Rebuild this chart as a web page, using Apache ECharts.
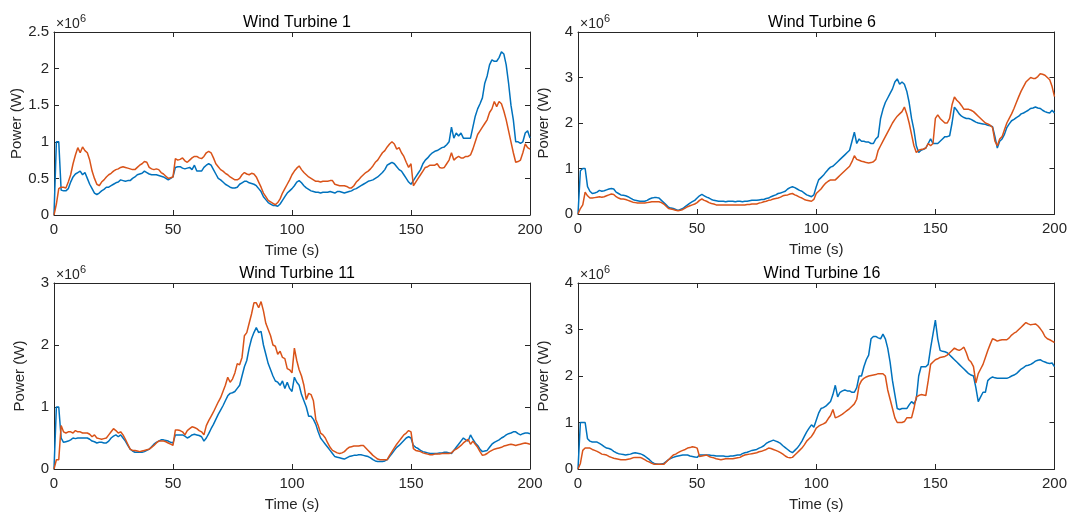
<!DOCTYPE html>
<html>
<head>
<meta charset="utf-8">
<title>Wind Turbine Power</title>
<script src="https://cdn.jsdelivr.net/npm/echarts@6/dist/echarts.min.js"></script>
<style>
  html, body { margin: 0; padding: 0; background: #ffffff; }
  #chart { width: 1070px; height: 513px; }
</style>
</head>
<body>
<div id="chart"></div>
<script>
// Power output of four turbines, sampled once a second (values in units of 10^6 W)
const timeSec = Array.from({ length: 201 }, (_, i) => i);

const xTicks = [0, 50, 100, 150, 200];
const titles = ['Wind Turbine 1', 'Wind Turbine 6', 'Wind Turbine 11', 'Wind Turbine 16'];
const yMax = [2.5, 4, 3, 4];
const yStep = [0.5, 1, 1, 1];

const wt1Blue = [
  0, 1.0, 1.0, 0.34, 0.33, 0.33, 0.36, 0.45, 0.52, 0.56,
  0.58, 0.60, 0.55, 0.58, 0.50, 0.42, 0.36, 0.30, 0.28, 0.30,
  0.33, 0.35, 0.38, 0.38, 0.40, 0.42, 0.44, 0.45, 0.48, 0.47,
  0.46, 0.47, 0.47, 0.50, 0.52, 0.55, 0.56, 0.57, 0.60, 0.58,
  0.56, 0.55, 0.55, 0.55, 0.54, 0.53, 0.52, 0.50, 0.48, 0.50,
  0.52, 0.65, 0.66, 0.66, 0.64, 0.63, 0.64, 0.65, 0.62, 0.68,
  0.60, 0.60, 0.60, 0.65, 0.68, 0.70, 0.68, 0.62, 0.56, 0.50,
  0.48, 0.45, 0.42, 0.40, 0.38, 0.37, 0.37, 0.38, 0.42, 0.44,
  0.46, 0.46, 0.44, 0.43, 0.42, 0.40, 0.36, 0.32, 0.25, 0.21,
  0.17, 0.15, 0.13, 0.13, 0.12, 0.15, 0.20, 0.25, 0.30, 0.33,
  0.36, 0.40, 0.45, 0.47, 0.44, 0.40, 0.37, 0.35, 0.33, 0.32,
  0.31, 0.31, 0.30, 0.31, 0.31, 0.31, 0.32, 0.31, 0.30, 0.32,
  0.32, 0.31, 0.30, 0.31, 0.32, 0.33, 0.35, 0.36, 0.38, 0.40,
  0.42, 0.44, 0.46, 0.47, 0.48, 0.50, 0.52, 0.55, 0.58, 0.62,
  0.68, 0.70, 0.72, 0.70, 0.66, 0.62, 0.60, 0.55, 0.50, 0.45,
  0.42, 0.47, 0.52, 0.57, 0.62, 0.70, 0.75, 0.78, 0.82, 0.85,
  0.87, 0.88, 0.90, 0.92, 0.93, 0.96, 1.00, 1.20, 1.05, 1.12,
  1.08, 1.12, 1.05, 1.05, 1.05, 1.05, 1.20, 1.35, 1.45, 1.52,
  1.60, 1.80, 1.90, 2.05, 2.12, 2.10, 2.10, 2.15, 2.23, 2.20,
  2.05, 1.80, 1.50, 1.30, 1.00, 1.00, 0.98, 1.00, 1.12, 1.15,
  1.05
];
const wt1Orange = [
  0, 0.15, 0.36, 0.38, 0.38, 0.37, 0.45, 0.55, 0.70, 0.82,
  0.92, 0.85, 0.93, 0.88, 0.85, 0.75, 0.60, 0.50, 0.42, 0.40,
  0.45, 0.48, 0.52, 0.55, 0.57, 0.60, 0.62, 0.63, 0.65, 0.66,
  0.65, 0.64, 0.63, 0.62, 0.62, 0.65, 0.68, 0.70, 0.73, 0.72,
  0.65, 0.63, 0.62, 0.63, 0.62, 0.58, 0.56, 0.53, 0.50, 0.51,
  0.52, 0.77, 0.75, 0.76, 0.78, 0.74, 0.72, 0.75, 0.78, 0.80,
  0.80, 0.78, 0.77, 0.80, 0.85, 0.87, 0.85, 0.78, 0.70, 0.66,
  0.62, 0.60, 0.57, 0.55, 0.52, 0.50, 0.48, 0.48, 0.50, 0.55,
  0.58, 0.56, 0.55, 0.57, 0.56, 0.52, 0.45, 0.38, 0.30, 0.25,
  0.20, 0.18, 0.16, 0.14, 0.17, 0.22, 0.30, 0.36, 0.42, 0.48,
  0.55, 0.60, 0.64, 0.67, 0.62, 0.58, 0.55, 0.52, 0.50, 0.48,
  0.46, 0.46, 0.45, 0.46, 0.46, 0.46, 0.47, 0.47, 0.42, 0.41,
  0.40, 0.40, 0.40, 0.39, 0.37, 0.37, 0.40, 0.45, 0.48, 0.52,
  0.55, 0.58, 0.60, 0.63, 0.67, 0.72, 0.75, 0.80, 0.85, 0.88,
  0.93, 0.97, 1.00, 0.97, 0.90, 0.92, 0.85, 0.80, 0.72, 0.65,
  0.70, 0.40, 0.45, 0.50, 0.55, 0.60, 0.65, 0.66, 0.68, 0.68,
  0.68, 0.70, 0.65, 0.64, 0.65, 0.70, 0.75, 0.85, 0.75, 0.78,
  0.80, 0.78, 0.78, 0.80, 0.80, 0.82, 0.90, 1.00, 1.10, 1.15,
  1.20, 1.25, 1.30, 1.40, 1.45, 1.55, 1.48, 1.55, 1.52, 1.42,
  1.30, 1.15, 1.00, 0.85, 0.72, 0.73, 0.75, 0.85, 0.97, 0.92,
  0.90
];

const wt6Blue = [
  0, 0.95, 1.0, 1.0, 0.60, 0.50, 0.45, 0.46, 0.48, 0.52,
  0.50, 0.51, 0.53, 0.55, 0.56, 0.55, 0.48, 0.45, 0.42, 0.41,
  0.40, 0.38, 0.35, 0.32, 0.30, 0.29, 0.28, 0.28, 0.28, 0.30,
  0.33, 0.35, 0.36, 0.36, 0.35, 0.30, 0.25, 0.20, 0.15, 0.13,
  0.12, 0.10, 0.08, 0.10, 0.12, 0.16, 0.20, 0.24, 0.27, 0.30,
  0.35, 0.40, 0.43, 0.40, 0.37, 0.35, 0.32, 0.30, 0.29, 0.28,
  0.28, 0.28, 0.27, 0.28, 0.28, 0.28, 0.27, 0.28, 0.28, 0.27,
  0.28, 0.28, 0.29, 0.30, 0.30, 0.30, 0.31, 0.32, 0.32, 0.34,
  0.35, 0.38, 0.40, 0.42, 0.45, 0.46, 0.48, 0.50, 0.55, 0.58,
  0.60, 0.58, 0.55, 0.52, 0.50, 0.46, 0.42, 0.40, 0.38, 0.42,
  0.60, 0.75, 0.80, 0.85, 0.92, 0.98, 1.03, 1.05, 1.10, 1.15,
  1.20, 1.25, 1.30, 1.35, 1.40, 1.60, 1.80, 1.55, 1.65, 1.60,
  1.60, 1.58, 1.58, 1.55, 1.55, 1.65, 1.70, 2.10, 2.30, 2.45,
  2.55, 2.65, 2.75, 2.90, 2.97, 2.85, 2.90, 2.85, 2.70, 2.45,
  2.10, 1.85, 1.50, 1.35, 1.40, 1.42, 1.45, 1.55, 1.65, 1.55,
  1.55, 1.55, 1.60, 1.65, 1.70, 1.70, 1.72, 2.00, 2.35, 2.28,
  2.20, 2.15, 2.12, 2.10, 2.10, 2.08, 2.05, 2.02, 2.00, 1.99,
  1.98, 1.97, 1.95, 1.94, 1.92, 1.70, 1.45, 1.60, 1.65, 1.75,
  1.90, 1.98, 2.05, 2.08, 2.12, 2.15, 2.20, 2.22, 2.25, 2.28,
  2.32, 2.33, 2.35, 2.33, 2.32, 2.28, 2.25, 2.23, 2.22, 2.28,
  2.22
];
const wt6Orange = [
  0, 0.12, 0.20, 0.48, 0.40, 0.35, 0.35, 0.36, 0.37, 0.38,
  0.37, 0.38, 0.40, 0.42, 0.44, 0.43, 0.38, 0.35, 0.33, 0.33,
  0.32, 0.30, 0.28, 0.26, 0.25, 0.24, 0.24, 0.24, 0.24, 0.25,
  0.26, 0.27, 0.27, 0.27, 0.27, 0.25, 0.22, 0.17, 0.12, 0.11,
  0.10, 0.08, 0.07, 0.08, 0.10, 0.13, 0.16, 0.18, 0.20, 0.22,
  0.25, 0.30, 0.33, 0.30, 0.28, 0.25, 0.23, 0.22, 0.20, 0.20,
  0.20, 0.20, 0.20, 0.20, 0.20, 0.20, 0.20, 0.20, 0.20, 0.20,
  0.20, 0.21, 0.21, 0.22, 0.22, 0.22, 0.24, 0.25, 0.27, 0.28,
  0.30, 0.31, 0.33, 0.34, 0.35, 0.37, 0.40, 0.41, 0.42, 0.44,
  0.45, 0.42, 0.40, 0.37, 0.35, 0.32, 0.30, 0.29, 0.28, 0.32,
  0.45, 0.50, 0.55, 0.62, 0.68, 0.72, 0.75, 0.75, 0.75, 0.80,
  0.85, 0.90, 0.95, 1.00, 1.05, 1.15, 1.28, 1.20, 1.18, 1.16,
  1.15, 1.13, 1.12, 1.13, 1.15, 1.20, 1.40, 1.50, 1.60, 1.70,
  1.80, 1.90, 2.00, 2.08, 2.15, 2.20, 2.25, 2.35, 2.20, 2.00,
  1.75, 1.50, 1.35, 1.40, 1.42, 1.43, 1.45, 1.55, 1.50, 1.55,
  2.10, 2.18, 2.10, 2.05, 2.00, 2.00, 2.10, 2.40, 2.57, 2.50,
  2.45, 2.38, 2.30, 2.30, 2.30, 2.28, 2.25, 2.20, 2.15, 2.10,
  2.05, 2.00, 1.98, 1.95, 1.90, 1.60, 1.50, 1.65, 1.70, 1.85,
  2.00, 2.10, 2.20, 2.32, 2.45, 2.58, 2.70, 2.80, 2.90, 2.95,
  3.00, 2.98, 2.98, 3.02, 3.08, 3.07, 3.05, 3.00, 2.95, 2.80,
  2.58
];

const wt11Blue = [
  0, 1.0, 1.0, 0.50, 0.43, 0.44, 0.45, 0.47, 0.50, 0.49,
  0.50, 0.50, 0.50, 0.50, 0.50, 0.48, 0.45, 0.44, 0.42, 0.43,
  0.43, 0.42, 0.42, 0.45, 0.50, 0.53, 0.55, 0.52, 0.55, 0.50,
  0.45, 0.38, 0.32, 0.29, 0.27, 0.27, 0.27, 0.27, 0.28, 0.30,
  0.32, 0.36, 0.40, 0.43, 0.45, 0.47, 0.47, 0.46, 0.45, 0.43,
  0.42, 0.55, 0.55, 0.55, 0.55, 0.53, 0.50, 0.52, 0.55, 0.56,
  0.55, 0.54, 0.52, 0.45, 0.50, 0.57, 0.65, 0.72, 0.80, 0.88,
  0.95, 1.02, 1.10, 1.18, 1.22, 1.23, 1.25, 1.30, 1.35, 1.50,
  1.65, 1.75, 1.95, 2.10, 2.20, 2.28, 2.20, 2.22, 2.00, 1.85,
  1.70, 1.60, 1.50, 1.42, 1.40, 1.35, 1.42, 1.30, 1.40, 1.30,
  1.25, 1.48, 1.40, 1.35, 1.20, 1.10, 1.00, 0.85, 0.85, 0.80,
  0.72, 0.60, 0.50, 0.45, 0.40, 0.35, 0.30, 0.25, 0.20, 0.19,
  0.18, 0.17, 0.16, 0.18, 0.20, 0.21, 0.22, 0.22, 0.23, 0.23,
  0.22, 0.21, 0.20, 0.18, 0.15, 0.13, 0.12, 0.12, 0.12, 0.13,
  0.15, 0.20, 0.25, 0.30, 0.35, 0.38, 0.42, 0.46, 0.50, 0.52,
  0.50, 0.38, 0.35, 0.33, 0.30, 0.28, 0.27, 0.26, 0.25, 0.25,
  0.25, 0.25, 0.26, 0.26, 0.27, 0.27, 0.26, 0.25, 0.30, 0.35,
  0.40, 0.45, 0.50, 0.47, 0.45, 0.55, 0.48, 0.42, 0.38, 0.32,
  0.28, 0.29, 0.30, 0.35, 0.40, 0.43, 0.45, 0.47, 0.50, 0.52,
  0.55, 0.57, 0.58, 0.60, 0.60, 0.57, 0.55, 0.57, 0.58, 0.58,
  0.57
];
const wt11Orange = [
  0, 0.15, 0.15, 0.70, 0.60, 0.58, 0.60, 0.60, 0.58, 0.62,
  0.60, 0.60, 0.58, 0.58, 0.58, 0.56, 0.52, 0.55, 0.50, 0.49,
  0.48, 0.49, 0.50, 0.55, 0.60, 0.65, 0.62, 0.58, 0.60, 0.55,
  0.48, 0.40, 0.32, 0.30, 0.30, 0.29, 0.28, 0.29, 0.30, 0.31,
  0.32, 0.35, 0.38, 0.42, 0.45, 0.45, 0.45, 0.44, 0.42, 0.40,
  0.38, 0.63, 0.63, 0.62, 0.60, 0.55, 0.62, 0.65, 0.68, 0.67,
  0.65, 0.62, 0.60, 0.55, 0.70, 0.78, 0.85, 0.92, 1.00, 1.08,
  1.15, 1.25, 1.35, 1.48, 1.40, 1.45, 1.55, 1.70, 1.68, 1.80,
  2.15, 2.20, 2.35, 2.50, 2.68, 2.68, 2.60, 2.70, 2.55, 2.35,
  2.25, 2.15, 2.00, 1.98, 1.85, 1.90, 1.80, 1.78, 1.62, 1.60,
  1.55, 1.95, 1.75, 1.60, 1.50, 1.35, 1.12, 1.22, 1.20, 1.10,
  0.80, 0.70, 0.58, 0.55, 0.50, 0.42, 0.35, 0.30, 0.28, 0.26,
  0.25, 0.26, 0.28, 0.32, 0.35, 0.36, 0.37, 0.37, 0.37, 0.38,
  0.38, 0.34, 0.30, 0.26, 0.22, 0.19, 0.16, 0.15, 0.15, 0.15,
  0.15, 0.22, 0.28, 0.34, 0.40, 0.45, 0.50, 0.55, 0.58, 0.62,
  0.60, 0.33, 0.30, 0.29, 0.28, 0.26, 0.25, 0.24, 0.23, 0.23,
  0.24, 0.24, 0.24, 0.25, 0.25, 0.25, 0.25, 0.26, 0.30, 0.32,
  0.35, 0.38, 0.42, 0.45, 0.48, 0.40, 0.45, 0.40, 0.35, 0.28,
  0.22, 0.23, 0.25, 0.28, 0.30, 0.32, 0.33, 0.34, 0.35, 0.37,
  0.38, 0.39, 0.40, 0.39, 0.38, 0.39, 0.40, 0.41, 0.42, 0.41,
  0.40
];

const wt16Blue = [
  0, 1.0, 1.0, 1.0, 0.65, 0.60, 0.58, 0.58, 0.58, 0.55,
  0.52, 0.48, 0.45, 0.44, 0.42, 0.38, 0.35, 0.33, 0.32, 0.31,
  0.30, 0.31, 0.32, 0.34, 0.35, 0.34, 0.33, 0.31, 0.28, 0.24,
  0.20, 0.15, 0.12, 0.11, 0.10, 0.11, 0.12, 0.16, 0.20, 0.23,
  0.25, 0.27, 0.28, 0.29, 0.30, 0.30, 0.30, 0.28, 0.27, 0.26,
  0.25, 0.30, 0.30, 0.30, 0.30, 0.30, 0.29, 0.29, 0.28, 0.28,
  0.28, 0.28, 0.27, 0.27, 0.28, 0.28, 0.29, 0.30, 0.30, 0.33,
  0.35, 0.36, 0.38, 0.40, 0.41, 0.42, 0.45, 0.47, 0.50, 0.55,
  0.58, 0.60, 0.62, 0.60, 0.58, 0.55, 0.50, 0.46, 0.42, 0.38,
  0.35, 0.40, 0.45, 0.52, 0.60, 0.70, 0.80, 0.88, 0.95, 0.90,
  1.05, 1.20, 1.30, 1.32, 1.35, 1.40, 1.45, 1.60, 1.80, 1.55,
  1.65, 1.68, 1.70, 1.68, 1.68, 1.65, 1.65, 1.75, 2.00, 2.00,
  2.20, 2.35, 2.45, 2.80, 2.85, 2.85, 2.82, 2.80, 2.90, 2.80,
  2.60, 2.30, 1.90, 1.60, 1.30, 1.28, 1.30, 1.30, 1.30, 1.38,
  1.45, 1.40, 1.50, 2.00, 2.20, 2.20, 2.20, 2.25, 2.60, 2.90,
  3.20, 2.80, 2.55, 2.53, 2.52, 2.50, 2.45, 2.40, 2.35, 2.30,
  2.25, 2.20, 2.15, 2.10, 2.05, 2.02, 2.00, 1.75, 1.45, 1.55,
  1.65, 1.65, 1.90, 1.95, 1.98, 1.96, 1.95, 1.95, 1.95, 1.95,
  1.95, 1.97, 2.00, 2.02, 2.05, 2.10, 2.15, 2.18, 2.22, 2.23,
  2.25, 2.28, 2.32, 2.34, 2.35, 2.32, 2.30, 2.28, 2.27, 2.28,
  2.20
];
const wt16Orange = [
  0, 0.12, 0.40, 0.45, 0.45, 0.45, 0.42, 0.40, 0.38, 0.35,
  0.32, 0.31, 0.30, 0.27, 0.25, 0.23, 0.22, 0.21, 0.20, 0.20,
  0.20, 0.21, 0.22, 0.24, 0.25, 0.25, 0.25, 0.23, 0.20, 0.17,
  0.15, 0.12, 0.10, 0.10, 0.10, 0.10, 0.10, 0.15, 0.20, 0.25,
  0.30, 0.32, 0.35, 0.38, 0.40, 0.42, 0.45, 0.46, 0.48, 0.47,
  0.45, 0.27, 0.28, 0.29, 0.30, 0.27, 0.25, 0.24, 0.22, 0.21,
  0.20, 0.21, 0.22, 0.22, 0.22, 0.22, 0.23, 0.24, 0.25, 0.28,
  0.30, 0.31, 0.32, 0.33, 0.34, 0.35, 0.37, 0.38, 0.40, 0.42,
  0.45, 0.44, 0.42, 0.40, 0.38, 0.35, 0.32, 0.28, 0.25, 0.24,
  0.25, 0.30, 0.35, 0.40, 0.45, 0.52, 0.60, 0.65, 0.70, 0.78,
  0.88, 0.92, 0.95, 0.97, 1.00, 1.08, 1.15, 1.28, 1.10, 1.12,
  1.15, 1.18, 1.22, 1.26, 1.30, 1.35, 1.40, 1.50, 1.80, 1.90,
  1.95, 1.98, 2.00, 2.01, 2.02, 2.03, 2.05, 2.05, 2.05, 2.00,
  1.70, 1.50, 1.30, 1.10, 1.00, 1.00, 1.00, 1.02, 1.10, 1.10,
  1.10, 1.30, 1.55, 1.58, 1.60, 1.59, 1.58, 1.90, 2.25, 2.30,
  2.35, 2.37, 2.40, 2.41, 2.42, 2.45, 2.50, 2.55, 2.60, 2.57,
  2.55, 2.58, 2.62, 2.50, 2.35, 2.30, 2.20, 1.85, 2.05, 2.15,
  2.25, 2.40, 2.55, 2.68, 2.80, 2.78, 2.75, 2.77, 2.78, 2.78,
  2.78, 2.82, 2.88, 2.92, 2.95, 3.00, 3.05, 3.10, 3.15, 3.12,
  3.10, 3.11, 3.12, 3.08, 3.02, 2.95, 2.85, 2.80, 2.78, 2.75,
  2.72
];

const blueSeries = [wt1Blue, wt6Blue, wt11Blue, wt16Blue];
const orangeSeries = [wt1Orange, wt6Orange, wt11Orange, wt16Orange];

// Panel frames in pixels
const panels = [
  { left: 54, top: 32, width: 476, height: 183 },
  { left: 578, top: 32, width: 478, height: 182 },
  { left: 54, top: 283, width: 476, height: 186 },
  { left: 578, top: 283, width: 478, height: 186 }
];

const FONT = '"Liberation Sans", Arial, Helvetica, sans-serif';
const AXIS_COLOR = '#262626';
const BLUE = '#0072BD';
const ORANGE = '#D95319';

const grid = [], xAxis = [], yAxis = [], series = [], title = [], graphic = [];

panels.forEach((p, i) => {
  grid.push({ left: p.left, top: p.top, width: p.width, height: p.height, containLabel: false });

  const tickStyle = { show: true, inside: true, length: 5, lineStyle: { color: AXIS_COLOR, width: 1 } };
  const lineStyle = { show: true, onZero: false, lineStyle: { color: AXIS_COLOR, width: 1 } };

  // bottom axis with labels, top axis for the box and mirrored ticks
  xAxis.push({
    gridIndex: i, type: 'value', position: 'bottom',
    min: xTicks[0], max: xTicks[xTicks.length - 1], interval: xTicks[1] - xTicks[0],
    axisLine: lineStyle, axisTick: tickStyle, splitLine: { show: false },
    axisLabel: { show: true, color: AXIS_COLOR, fontSize: 15, fontFamily: FONT, margin: 7 },
    name: 'Time (s)', nameLocation: 'middle', nameGap: 28,
    nameTextStyle: { color: AXIS_COLOR, fontSize: 15, fontFamily: FONT }
  });
  xAxis.push({
    gridIndex: i, type: 'value', position: 'top',
    min: xTicks[0], max: xTicks[xTicks.length - 1], interval: xTicks[1] - xTicks[0],
    axisLine: lineStyle, axisTick: tickStyle, splitLine: { show: false },
    axisLabel: { show: false }
  });
  yAxis.push({
    gridIndex: i, type: 'value', position: 'left',
    min: 0, max: yMax[i], interval: yStep[i],
    axisLine: lineStyle, axisTick: tickStyle, splitLine: { show: false },
    axisLabel: { show: true, color: AXIS_COLOR, fontSize: 15, fontFamily: FONT, margin: 5 },
    name: 'Power (W)', nameLocation: 'middle', nameGap: 27,
    nameTextStyle: { color: AXIS_COLOR, fontSize: 15, fontFamily: FONT }
  });
  yAxis.push({
    gridIndex: i, type: 'value', position: 'right',
    min: 0, max: yMax[i], interval: yStep[i],
    axisLine: lineStyle, axisTick: tickStyle, splitLine: { show: false },
    axisLabel: { show: false }
  });

  const toPairs = arr => timeSec.map((t, k) => [t, arr[k]]);
  series.push({
    type: 'line', xAxisIndex: 2 * i, yAxisIndex: 2 * i,
    data: toPairs(blueSeries[i]), showSymbol: false, symbol: 'none',
    lineStyle: { color: BLUE, width: 1.5 }, itemStyle: { color: BLUE }, z: 2
  });
  series.push({
    type: 'line', xAxisIndex: 2 * i, yAxisIndex: 2 * i,
    data: toPairs(orangeSeries[i]), showSymbol: false, symbol: 'none',
    lineStyle: { color: ORANGE, width: 1.5 }, itemStyle: { color: ORANGE }, z: 3
  });

  title.push({
    text: titles[i], left: p.left + p.width / 2, top: p.top - 22, textAlign: 'center',
    textStyle: { color: '#000000', fontSize: 16, fontWeight: 'normal', fontFamily: FONT }
  });

  // exponent marker above the y axis
  graphic.push({
    type: 'text', x: p.left + 2, y: p.top - 1,
    style: { text: '\u00d710', font: '14px ' + FONT, fill: AXIS_COLOR,
             textAlign: 'left', textVerticalAlign: 'bottom', align: 'left', verticalAlign: 'bottom' }
  });
  graphic.push({
    type: 'text', x: p.left + 26, y: p.top - 8,
    style: { text: '6', font: '11px ' + FONT, fill: AXIS_COLOR,
             textAlign: 'left', textVerticalAlign: 'bottom', align: 'left', verticalAlign: 'bottom' }
  });
});

const chart = echarts.init(document.getElementById('chart'), null, { renderer: 'canvas' });
chart.setOption({
  animation: false,
  backgroundColor: '#ffffff',
  title, grid, xAxis, yAxis, series, graphic
});
</script>
</body>
</html>
